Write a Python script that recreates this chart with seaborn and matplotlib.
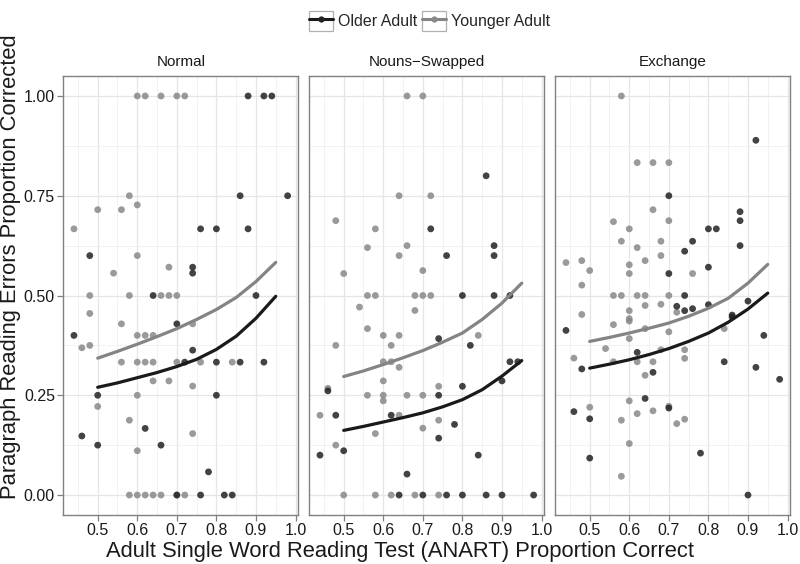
import matplotlib
matplotlib.use("Agg")
import matplotlib.pyplot as plt
from matplotlib.lines import Line2D
from matplotlib.patches import Rectangle
from matplotlib.legend_handler import HandlerLine2D
from matplotlib.ticker import MultipleLocator
import pandas as pd
import seaborn as sns

CONDITIONS = ["Normal", "Nouns\u2212Swapped", "Exchange"]
GROUPS = ["Older Adult", "Younger Adult"]

# Puntos: (ANART proporcion correcta, proporcion corregida)
normal_young_x = [0.60, 0.62, 0.66, 0.70, 0.72, 0.44, 0.50, 0.56, 0.58, 0.60, 0.60, 0.54, 0.68,
                  0.48, 0.58, 0.66, 0.68, 0.70, 0.48, 0.56, 0.74, 0.60, 0.62, 0.64, 0.46, 0.48,
                  0.56, 0.60, 0.62, 0.64, 0.70, 0.76, 0.84, 0.64, 0.68, 0.74, 0.60, 0.50, 0.58,
                  0.74, 0.60, 0.58, 0.60, 0.62, 0.64, 0.66, 0.70, 0.72]
normal_young_y = [1.00, 1.00, 1.00, 1.00, 1.00, 0.667, 0.715, 0.715, 0.75, 0.727, 0.60, 0.556, 0.571,
                  0.50, 0.50, 0.50, 0.50, 0.50, 0.455, 0.429, 0.429, 0.40, 0.40, 0.40, 0.369, 0.375,
                  0.333, 0.333, 0.333, 0.333, 0.333, 0.333, 0.333, 0.286, 0.286, 0.273, 0.25, 0.222, 0.1875,
                  0.154, 0.111, 0.0, 0.0, 0.0, 0.0, 0.0, 0.0, 0.0]
normal_old_x = [0.88, 0.92, 0.94, 0.86, 0.98, 0.76, 0.80, 0.88, 0.48, 0.74, 0.74,
                0.64, 0.90, 0.70, 0.44, 0.74, 0.72, 0.80, 0.86, 0.92,
                0.50, 0.80, 0.62, 0.46, 0.50, 0.66, 0.78, 0.70, 0.76, 0.82, 0.84]
normal_old_y = [1.00, 1.00, 1.00, 0.75, 0.75, 0.667, 0.667, 0.667, 0.60, 0.571, 0.556,
                0.50, 0.50, 0.429, 0.40, 0.363, 0.333, 0.333, 0.333, 0.333,
                0.25, 0.25, 0.167, 0.148, 0.125, 0.125, 0.058, 0.0, 0.0, 0.0, 0.0]

swap_young_x = [0.66, 0.70, 0.64, 0.72, 0.48, 0.58, 0.56, 0.66, 0.64, 0.50, 0.70,
                0.56, 0.58, 0.68, 0.70, 0.72, 0.54, 0.68, 0.56, 0.60, 0.64, 0.84, 0.48, 0.62,
                0.60, 0.62, 0.64, 0.60, 0.46, 0.74, 0.56, 0.60, 0.60, 0.66, 0.70,
                0.44, 0.64, 0.74, 0.70, 0.58, 0.48, 0.50, 0.58, 0.62, 0.68, 0.74]
swap_young_y = [1.00, 1.00, 0.75, 0.75, 0.6875, 0.667, 0.62, 0.625, 0.60, 0.555, 0.5625,
                0.50, 0.50, 0.50, 0.50, 0.50, 0.471, 0.4625, 0.417, 0.40, 0.40, 0.40, 0.375, 0.375,
                0.334, 0.334, 0.32, 0.286, 0.2675, 0.2725, 0.25, 0.25, 0.236, 0.25, 0.25,
                0.20, 0.20, 0.1875, 0.1675, 0.154, 0.125, 0.0, 0.0, 0.0, 0.0, 0.0]
swap_old_x = [0.86, 0.72, 0.76, 0.88, 0.88, 0.80, 0.88, 0.92, 0.74, 0.82, 0.92, 0.94, 0.46, 0.80,
              0.90, 0.74, 0.48, 0.62, 0.78, 0.74, 0.44, 0.50, 0.84, 0.66,
              0.64, 0.70, 0.76, 0.80, 0.86, 0.90, 0.98]
swap_old_y = [0.80, 0.667, 0.60, 0.625, 0.60, 0.50, 0.50, 0.50, 0.392, 0.375, 0.334, 0.334, 0.261, 0.2725,
              0.286, 0.25, 0.20, 0.20, 0.177, 0.1425, 0.10, 0.111, 0.10, 0.0525,
              0.0, 0.0, 0.0, 0.0, 0.0, 0.0, 0.0]

exch_young_x = [0.58, 0.62, 0.66, 0.70, 0.66, 0.56, 0.70, 0.60, 0.58, 0.68, 0.62, 0.68, 0.64, 0.44,
                0.48, 0.50, 0.60, 0.60, 0.48, 0.76, 0.56, 0.58, 0.62, 0.64, 0.70,
                0.64, 0.68, 0.48, 0.60, 0.72, 0.60, 0.60, 0.56, 0.64, 0.70, 0.84, 0.60, 0.54, 0.46,
                0.56, 0.62, 0.66, 0.68, 0.74, 0.74, 0.64,
                0.60, 0.50, 0.66, 0.70, 0.62, 0.58, 0.72, 0.74, 0.60, 0.58]
exch_young_y = [1.00, 0.833, 0.833, 0.833, 0.715, 0.685, 0.6875, 0.667, 0.636, 0.636, 0.62, 0.60, 0.5875, 0.5825,
                0.5875, 0.5625, 0.577, 0.555, 0.526, 0.555, 0.50, 0.50, 0.50, 0.50, 0.50,
                0.475, 0.478, 0.4525, 0.462, 0.458, 0.442, 0.436, 0.427, 0.417, 0.409, 0.417, 0.392, 0.367, 0.343,
                0.334, 0.334, 0.334, 0.364, 0.364, 0.3425, 0.30,
                0.236, 0.22, 0.211, 0.2225, 0.204, 0.1875, 0.179, 0.19, 0.129, 0.047]
exch_old_x = [0.92, 0.70, 0.88, 0.88, 0.80, 0.82, 0.76, 0.74, 0.88, 0.70, 0.80,
              0.74, 0.72, 0.74, 0.76, 0.80, 0.90, 0.86, 0.86, 0.44, 0.94, 0.62, 0.48, 0.84, 0.92, 0.66, 0.98,
              0.64, 0.46, 0.50, 0.70, 0.78, 0.50, 0.90]
exch_old_y = [0.889, 0.75, 0.71, 0.6875, 0.667, 0.667, 0.636, 0.611, 0.625, 0.555, 0.571,
              0.50, 0.473, 0.462, 0.467, 0.477, 0.486, 0.451, 0.446, 0.4125, 0.40, 0.3575, 0.316, 0.334, 0.32, 0.3075, 0.29,
              0.242, 0.209, 0.191, 0.218, 0.105, 0.0925, 0.0]

curve_x = [0.50, 0.55, 0.60, 0.65, 0.70, 0.75, 0.80, 0.85, 0.90, 0.95]
normal_young_fit = [0.343, 0.360, 0.378, 0.397, 0.417, 0.440, 0.465, 0.495, 0.535, 0.583]
normal_old_fit = [0.270, 0.281, 0.294, 0.307, 0.322, 0.340, 0.365, 0.398, 0.443, 0.498]
swap_young_fit = [0.297, 0.311, 0.327, 0.344, 0.362, 0.383, 0.406, 0.440, 0.481, 0.531]
swap_old_fit = [0.162, 0.172, 0.183, 0.194, 0.206, 0.221, 0.239, 0.264, 0.298, 0.337]
exch_young_fit = [0.385, 0.395, 0.406, 0.418, 0.431, 0.448, 0.468, 0.493, 0.531, 0.578]
exch_old_fit = [0.318, 0.328, 0.339, 0.352, 0.367, 0.385, 0.406, 0.433, 0.466, 0.506]

POINT_COLORS = {"Older Adult": "#222222", "Younger Adult": "#888888"}
LINE_COLORS = {"Older Adult": "#1a1a1a", "Younger Adult": "#848484"}


def build_frames():
    point_sets = [
        (CONDITIONS[0], "Younger Adult", normal_young_x, normal_young_y),
        (CONDITIONS[0], "Older Adult", normal_old_x, normal_old_y),
        (CONDITIONS[1], "Younger Adult", swap_young_x, swap_young_y),
        (CONDITIONS[1], "Older Adult", swap_old_x, swap_old_y),
        (CONDITIONS[2], "Younger Adult", exch_young_x, exch_young_y),
        (CONDITIONS[2], "Older Adult", exch_old_x, exch_old_y),
    ]
    rows = []
    for cond, grp, xs, ys in point_sets:
        for x, y in zip(xs, ys):
            rows.append({"Condition": cond, "Group": grp, "ANART": x, "Prop": y})
    points = pd.DataFrame(rows)

    fit_sets = [
        (CONDITIONS[0], "Older Adult", normal_old_fit),
        (CONDITIONS[0], "Younger Adult", normal_young_fit),
        (CONDITIONS[1], "Older Adult", swap_old_fit),
        (CONDITIONS[1], "Younger Adult", swap_young_fit),
        (CONDITIONS[2], "Older Adult", exch_old_fit),
        (CONDITIONS[2], "Younger Adult", exch_young_fit),
    ]
    rows = []
    for cond, grp, ys in fit_sets:
        for x, y in zip(curve_x, ys):
            rows.append({"Condition": cond, "Group": grp, "ANART": x, "Prop": y})
    fits = pd.DataFrame(rows)
    return points, fits


class BoxedKey(HandlerLine2D):
    """Clave de leyenda con recuadro gris, al estilo ggplot."""

    def create_artists(self, legend, orig_handle, xdescent, ydescent, width, height, fontsize, trans):
        artists = super().create_artists(legend, orig_handle, xdescent, ydescent, width, height, fontsize, trans)
        box = Rectangle((-xdescent, -ydescent), width, height, facecolor="white",
                        edgecolor="#b0b0b0", linewidth=0.9, transform=trans)
        return [box] + list(artists)


points_df, fits_df = build_frames()

sns.set_theme(style="white")
plt.rcParams["font.family"] = ["Liberation Sans", "DejaVu Sans"]

fig = plt.figure(figsize=(8, 5.64), dpi=100)
lefts = [0.0791, 0.3866, 0.6941]

for i, cond in enumerate(CONDITIONS):
    ax = fig.add_axes([lefts[i], 0.0869, 0.2938, 0.7783])
    ax.set_axisbelow(True)
    sub_pts = points_df[points_df["Condition"] == cond]
    sub_fit = fits_df[fits_df["Condition"] == cond]

    sns.scatterplot(data=sub_pts, x="ANART", y="Prop", hue="Group", palette=POINT_COLORS,
                    s=24, alpha=0.85, edgecolor="none", legend=False, ax=ax)
    sns.lineplot(data=sub_fit, x="ANART", y="Prop", hue="Group", palette=LINE_COLORS,
                 linewidth=2.3, legend=False, ax=ax)

    ax.set_xlim(0.413, 1.007)
    ax.set_ylim(-0.05, 1.05)
    ax.xaxis.set_major_locator(MultipleLocator(0.1))
    ax.xaxis.set_minor_locator(MultipleLocator(0.05))
    ax.yaxis.set_major_locator(MultipleLocator(0.25))
    ax.yaxis.set_minor_locator(MultipleLocator(0.125))
    ax.grid(which="major", color="#e6e6e6", linewidth=0.9)
    ax.grid(which="minor", color="#f0f0f0", linewidth=0.6)
    for spine in ax.spines.values():
        spine.set_color("#808080")
        spine.set_linewidth(1.0)
    ax.tick_params(which="major", direction="out", length=4, width=0.9, color="#808080",
                   labelsize=11.5, labelcolor="#1a1a1a", pad=2, bottom=True, left=(i == 0))
    ax.tick_params(which="minor", length=0)
    ax.set_xticks([0.5, 0.6, 0.7, 0.8, 0.9, 1.0])
    ax.set_xticklabels(["0.5", "0.6", "0.7", "0.8", "0.9", "1.0"])
    if i == 0:
        ax.set_yticks([0.0, 0.25, 0.5, 0.75, 1.0])
        ax.set_yticklabels(["0.00", "0.25", "0.50", "0.75", "1.00"])
    else:
        ax.set_yticklabels([])
    ax.set_xlabel("")
    ax.set_ylabel("")
    ax.set_title(cond, fontsize=11, pad=7, color="#1a1a1a")

fig.text(0.5, 0.0213, "Adult Single Word Reading Test (ANART) Proportion Correct",
         ha="center", va="center", fontsize=15.8, color="#1a1a1a")
fig.text(0.013, 0.528, "Paragraph Reading Errors Proportion Corrected",
         ha="center", va="center", rotation=90, fontsize=15.8, color="#1a1a1a")

handles = [Line2D([], [], color=LINE_COLORS[g], linewidth=2.2, marker="o", markersize=4.5,
                  markerfacecolor=POINT_COLORS[g], markeredgecolor="none") for g in GROUPS]
fig.legend(handles, GROUPS, loc="upper center", bbox_to_anchor=(0.537, 1.0), ncol=2,
           frameon=False, fontsize=11.5, handlelength=1.5, handleheight=1.5,
           handletextpad=0.3, columnspacing=0.3, borderaxespad=0.3,
           handler_map={Line2D: BoxedKey()})

plt.savefig("out.png", dpi=100)
plt.close(fig)
